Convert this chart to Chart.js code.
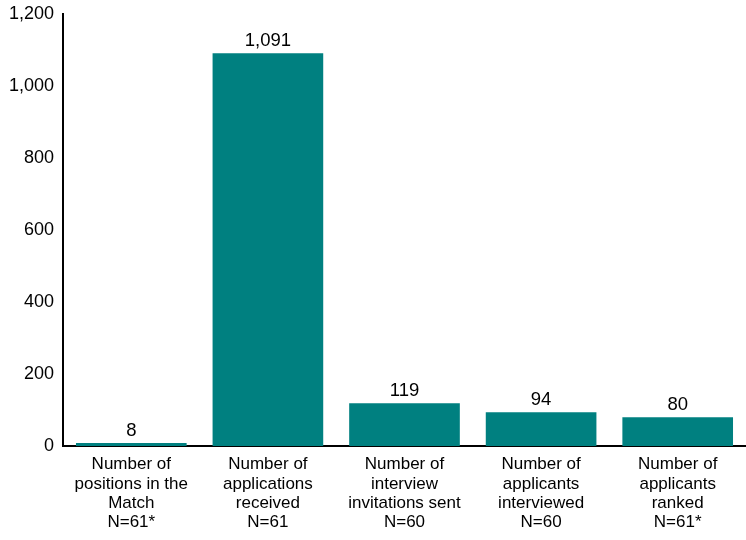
<!DOCTYPE html>
<html>
<head>
<meta charset="utf-8">
<script src="https://cdn.jsdelivr.net/npm/chart.js@4"></script>
<style>
  html, body { margin: 0; padding: 0; background: #fff; }
  #wrap { width: 746px; height: 540px; }
</style>
</head>
<body>
<div id="wrap"><canvas id="chart"></canvas></div>
<script>
  "use strict";

  const categories = [
    ["Number of", "positions in the", "Match"],
    ["Number of", "applications", "received"],
    ["Number of", "interview", "invitations sent"],
    ["Number of", "applicants", "interviewed"],
    ["Number of", "applicants", "ranked"],
  ];
  const sampleSizes = ["N=61*", "N=61", "N=60", "N=60", "N=61*"];
  const values = [8, 1091, 119, 94, 80];
  const yTicks = [0, 200, 400, 600, 800, 1000, 1200];

  const FONT = "'Liberation Sans', Arial, sans-serif";
  const TEAL = "#008080";

  function formatNumber(v) {
    return v.toLocaleString("en-US");
  }

  // value above each bar
  const valueLabels = {
    id: "valueLabels",
    afterDatasetsDraw(chart) {
      const ctx = chart.ctx;
      const meta = chart.getDatasetMeta(0);
      ctx.save();
      ctx.font = "18.5px " + FONT;
      ctx.fillStyle = "#000";
      ctx.textAlign = "center";
      ctx.textBaseline = "bottom";
      meta.data.forEach((bar, i) => {
        ctx.fillText(formatNumber(values[i]), bar.x, bar.y - 3);
      });
      ctx.restore();
    },
  };

  new Chart(document.getElementById("chart"), {
    type: "bar",
    data: {
      labels: categories.map((lines, i) => lines.concat(sampleSizes[i])),
      datasets: [
        {
          data: values,
          backgroundColor: TEAL,
          borderWidth: 0,
          barPercentage: 0.81,
          categoryPercentage: 1,
        },
      ],
    },
    options: {
      responsive: true,
      maintainAspectRatio: false,
      animation: false,
      layout: { padding: { top: 14, right: -3, left: 0, bottom: 0 } },
      plugins: {
        legend: { display: false },
        tooltip: { enabled: false },
      },
      scales: {
        x: {
          grid: { display: false, drawTicks: false },
          border: { color: "#000", width: 2 },
          afterFit: (scale) => { scale.height = 94; },
          ticks: {
            color: "#000",
            padding: 9,
            maxRotation: 0,
            autoSkip: false,
            font: { family: FONT, size: 17, lineHeight: 1.13 },
          },
        },
        y: {
          min: 0,
          max: 1200,
          afterFit: (scale) => {
            scale.width = 63;
            scale.paddingTop = 0;
            scale.paddingBottom = 0;
          },
          afterBuildTicks: (scale) => {
            scale.ticks = yTicks.map((v) => ({ value: v }));
          },
          grid: { display: false, drawTicks: false },
          border: { color: "#000", width: 2 },
          ticks: {
            color: "#000",
            padding: 9,
            font: { family: FONT, size: 18 },
            callback: (v) => formatNumber(v),
          },
        },
      },
    },
    plugins: [valueLabels],
  });
</script>
</body>
</html>
